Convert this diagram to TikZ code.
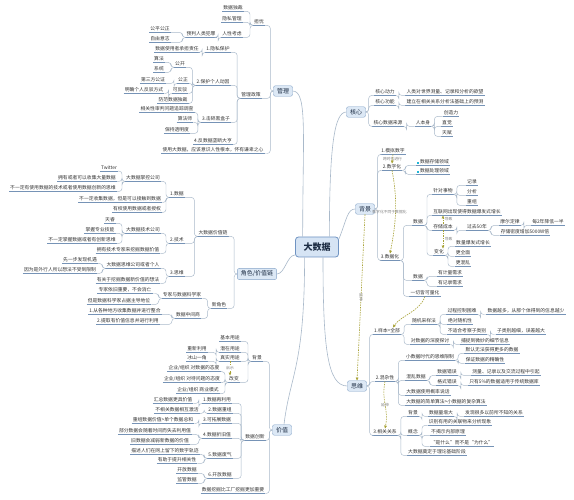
\documentclass[tikz,border=0pt]{standalone}
\usepackage{fontspec}
\newfontfamily\cjk{Noto Sans CJK SC}
\usepackage{tikz}
\usetikzlibrary{arrows.meta}

\definecolor{uline}{HTML}{7693B6}
\definecolor{linkc}{HTML}{A9B9CA}
\definecolor{boxfill}{HTML}{DCE8F5}
\definecolor{boxline}{HTML}{86A4C8}
\definecolor{hubfill}{HTML}{D6E4F4}
\definecolor{hubline}{HTML}{6F93C2}
\definecolor{relc}{HTML}{A8A235}
\definecolor{bullet}{HTML}{1FB5D8}
\definecolor{txt}{HTML}{333333}
\definecolor{boxtxt}{HTML}{1D2D44}

\begin{document}
\begin{tikzpicture}[x=1pt, y=-1pt,
        leaf/.style={font=\cjk\fontsize{4.8}{5.6}\selectfont, text=txt, inner xsep=1pt, inner ysep=1pt,
            append after command={(\tikzlastnode.south west) edge[draw=uline, line width=0.5pt] (\tikzlastnode.south east)}},
        branch/.style={draw=boxline, fill=boxfill, rounded corners=2pt, font=\cjk\fontsize{6}{7}\selectfont, text=boxtxt, inner xsep=3.5pt, inner ysep=2.5pt},
        hub/.style={draw=hubline, fill=hubfill, rounded corners=3pt, line width=0.8pt, font=\cjk\bfseries\fontsize{9}{10}\selectfont, text=boxtxt, minimum width=43pt, minimum height=20pt},
        link/.style={draw=linkc, line width=0.45pt, rounded corners=3pt},
        trunk/.style={draw=linkc, line width=0.6pt},
        rel/.style={draw=relc, dash pattern=on 1.5pt off 1pt, line width=0.6pt, -{Triangle[length=3pt,width=2.6pt]}},
        rellab/.style={font=\cjk\fontsize{3.8}{4.4}\selectfont, text=gray, inner sep=0.5pt}
        ]
        \path[use as bounding box, fill=white] (0,0) rectangle (574,500);

        \node[hub] (dsj) at (317,247) {大数据};

        % 管理
        \node[branch] (gl) at (283,91) {管理};
        \node[leaf] (dy) at (259,22) {担忧};
        \node[leaf] (sjdc) at (233,8) {数据独裁};
        \node[leaf] (ysgl) at (232,19) {隐私管理};
        \node[leaf] (rxkl) at (232,34) {人性考虑};
        \node[leaf] (ypfz) at (201,34) {预判人类犯罪};
        \node[leaf] (gpgz) at (160,29) {公平公正};
        \node[leaf] (zyyz) at (160,39) {自由意志};
        \node[leaf] (glzc) at (251,95) {管理政策};
        \node[leaf] (yshb) at (218,49) {1.隐私保护};
        \node[leaf] (cdzr) at (177,49) {数据使用者承担责任};
        \node[leaf] (bhdy) at (213,82) {2.保护个人动因};
        \node[leaf] (gk) at (180,64) {公开};
        \node[leaf] (sf) at (159,59) {算法};
        \node[leaf] (xt) at (159,69) {系统};
        \node[leaf] (gz) at (183,80) {公正};
        \node[leaf] (dsf) at (153,80) {第三方公证};
        \node[leaf] (kfb) at (180,90) {可反驳};
        \node[leaf] (mqfb) at (144,90) {明确个人反驳方式};
        \node[leaf] (ffdc) at (173,100) {防范数据独裁};
        \node[leaf] (jshh) at (216,119) {3.击碎黑盒子};
        \node[leaf] (xgsp) at (167,109) {相关性审判问题追踪调查};
        \node[leaf] (sfs) at (185,119) {算法师};
        \node[leaf] (bctm) at (177,130) {保持透明度};
        \node[leaf] (fld) at (213,141) {4.反数据垄断大亨};
        \node[leaf] (qbzx) at (213,150) {使用大数据，应该意识人性根本，怀有谦卑之心};

        % 核心
        \node[branch] (hx) at (356,112) {核心};
        \node[leaf] (hxdl) at (385,92) {核心动力};
        \node[leaf] (hxyw) at (445,92) {人类对世界测量、记录和分析的欲望};
        \node[leaf] (hxgn) at (385,102) {核心功能};
        \node[leaf] (hxyc) at (445,102) {建立在相关关系分析法基础上的预测};
        \node[leaf] (hxly) at (388,123) {核心数据来源};
        \node[leaf] (rbs) at (423,123) {人本身};
        \node[leaf] (czl) at (451,113) {创造力};
        \node[leaf] (zj) at (447,123) {直觉};
        \node[leaf] (tf) at (447,133) {天赋};

        % 背景
        \node[branch] (bj) at (365,209) {背景};
        \node[leaf] (mnsz) at (393,151) {1.模拟数字};
        \node[leaf] (szh) at (392,167) {2.数字化};
        \node[leaf] (ccly) at (433,162) {\textcolor{bullet}{\rule{2pt}{2pt}}\,数据存储领域};
        \node[leaf] (clly) at (433,171) {\textcolor{bullet}{\rule{2pt}{2pt}}\,数据处理领域};
        \node[leaf] (sjh) at (390,257) {3.数据化};
        \node[leaf] (sjl) at (418,222) {数据};
        \node[leaf] (zdsw) at (443,191) {针对事物};
        \node[leaf] (jl) at (472,182) {记录};
        \node[leaf] (fx) at (472,192) {分析};
        \node[leaf] (cz) at (472,202) {重组};
        \node[leaf] (hlw) at (467,212) {互联网出现使得数据爆发式增长};
        \node[leaf] (cccb) at (443,227) {存储成本};
        \node[leaf] (gq) at (477,227) {过去50年};
        \node[leaf] (mefl) at (510,222) {摩尔定律};
        \node[leaf] (mlyb) at (548,222) {每2年降低一半};
        \node[leaf] (ccmd) at (525,232) {存储密度增加5000W倍};
        \node[leaf] (bh) at (439,252) {变化};
        \node[leaf] (slbf) at (473,243) {数量爆发式增长};
        \node[leaf] (gqm) at (463,253) {更全面};
        \node[leaf] (ghl) at (463,263) {更混乱};
        \node[leaf] (sjm) at (418,277) {数据};
        \node[leaf] (jlxq) at (450,273) {有计量需求};
        \node[leaf] (jlxr) at (450,283) {有记录需求};
        \node[leaf] (yqlh) at (425,293) {一切皆可量化};

        % 思维
        \node[branch] (sw) at (357,386) {思维};
        \node[leaf] (ybqb) at (387,331) {1.样本=全部};
        \node[leaf] (sjcy) at (424,321) {随机采样法};
        \node[leaf] (gckz) at (462,311) {过程控制困难};
        \node[leaf] (xxys) at (526,311) {数据越多，从那个体得到的信息越少};
        \node[leaf] (jdsj) at (460,321) {绝对随机性};
        \node[leaf] (bshz) at (467,331) {不适合考察子类别};
        \node[leaf] (wcyd) at (521,331) {子类别越细，误差越大};
        \node[leaf] (sdtt) at (430,341) {对数据的深度探讨};
        \node[leaf] (bzwm) at (485,341) {捕捉到微妙的细节信息};
        \node[leaf] (hzx) at (385,378) {2.混杂性};
        \node[leaf] (xsjx) at (430,357) {小数据时代的思维限制};
        \node[leaf] (mrwf) at (492,350) {默认无法获得更多的数据};
        \node[leaf] (bzjq) at (485,360) {保证数据的精确性};
        \node[leaf] (hlsj) at (416,377) {混乱数据};
        \node[leaf] (sjcw) at (447,372) {数据错误};
        \node[leaf] (clyq) at (506,372) {测量、记录以及交流过程中引起};
        \node[leaf] (gscw) at (447,382) {格式错误};
        \node[leaf] (zywu) at (504,382) {只有5\%的数据适用于传统数据库};
        \node[leaf] (glsh) at (428,392) {大数据使用概率说话};
        \node[leaf] (jdsf) at (446,402) {大数据的简单算法>小数据的复杂算法};
        \node[leaf] (xggx) at (385,432) {3.相关关系};
        \node[leaf] (bjq) at (413,413) {背景};
        \node[leaf] (sjzd) at (441,413) {数据量增大};
        \node[leaf] (fxgx) at (494,413) {发现很多以前所不知的关系};
        \node[leaf] (gn) at (413,432) {概念};
        \node[leaf] (sbgl) at (460,422) {识别有用的关联物来分析现象};
        \node[leaf] (bjsy) at (448,432) {不揭示内部原理};
        \node[leaf] (sssm) at (462,443) {“是什么”而不是“为什么”};
        \node[leaf] (ddjc) at (437,452) {大数据奠定于理论基础阶段};

        % 角色/价值链
        \node[branch] (js) at (257,274) {角色/价值链};
        \node[leaf] (jzl) at (213,233) {大数据价值链};
        \node[leaf] (sjd) at (177,194) {1.数据};
        \node[leaf] (zkgs) at (143,178) {大数据掌控公司};
        \node[leaf] (tw) at (109,168) {Twitter};
        \node[leaf] (yysj) at (87,178) {拥有或者可以收集大量数据};
        \node[leaf] (bydj) at (63,188) {不一定有使用数据的技术或者使用数据创新的思维};
        \node[leaf] (bysj) at (120,199) {不一定收集数据，但是可以接触到数据};
        \node[leaf] (yqsy) at (137,209) {有权使用数据或者授权};
        \node[leaf] (jsd) at (177,240) {2.技术};
        \node[leaf] (jsgs) at (143,230) {大数据技术公司};
        \node[leaf] (tr) at (110,220) {天睿};
        \node[leaf] (zwzy) at (100,230) {掌握专业技能};
        \node[leaf] (bywj) at (82,240) {不一定掌握数据或者有创新思维};
        \node[leaf] (yyzj) at (128,250) {拥有技术专家来挖掘数据价值};
        \node[leaf] (swd) at (177,273) {3.思维};
        \node[leaf] (swgs) at (133,265) {大数据思维公司或者个人};
        \node[leaf] (xyb) at (80,260) {先一步发现机遇};
        \node[leaf] (wxr) at (60,270) {因为是外行人所以想法不受到限制};
        \node[leaf] (wjxz) at (128,280) {有关于挖掘数据新价值的想法};
        \node[leaf] (xjs) at (219,305) {新角色};
        \node[leaf] (zjkx) at (182,295) {专家与数据科学家};
        \node[leaf] (zjzy) at (125,290) {专家依旧重要，不会消亡};
        \node[leaf] (kxzd) at (119,301) {但是数据科学家占据主导地位};
        \node[leaf] (zjs) at (188,315) {数据中间商};
        \node[leaf] (sjzh) at (125,311) {1.从各种地方收集数据并进行整合};
        \node[leaf] (tqjz) at (128,321) {2.提取有价值信息并进行利用};

        % 价值
        \node[branch] (jz) at (282,430) {价值};
        \node[leaf] (bjj) at (257,358) {背景};
        \node[leaf] (jbyt) at (230,338) {基本用途};
        \node[leaf] (qzyt) at (230,349) {潜在用途};
        \node[leaf] (cxly) at (197,349) {重新利用};
        \node[leaf] (zsyt) at (230,358) {真实用途};
        \node[leaf] (bsyj) at (197,358) {冰山一角};
        \node[leaf] (gb) at (234,379) {改变};
        \node[leaf] (tdsj) at (194,368) {企业/组织 对数据的态度};
        \node[leaf] (tdwt) at (192,379) {企业/组织 对待问题的态度};
        \node[leaf] (syms) at (198,390) {企业/组织 商业模式};
        \node[leaf] (sjcx) at (255,437) {数据创新};
        \node[leaf] (zly) at (217,400) {1.数据再利用};
        \node[leaf] (hzsj) at (173,400) {汇总数据更具价值};
        \node[leaf] (sjcz) at (220,410) {2.数据重组};
        \node[leaf] (bxg) at (177,410) {不相关数据相互激活};
        \node[leaf] (kzsj) at (217,420) {3.可拓展数据};
        \node[leaf] (czjz) at (163,420) {重组数据价值>单个数据总和};
        \node[leaf] (zjz) at (217,435) {4.数据折旧值};
        \node[leaf] (bfsj) at (155,431) {部分数据会随着时间而失去利用值};
        \node[leaf] (jsjz) at (160,441) {旧数据会减弱新数据的价值};
        \node[leaf] (sjfq) at (220,455) {5.数据废气};
        \node[leaf] (msgj) at (165,451) {描述人们在网上留下的数字轨迹};
        \node[leaf] (tsxg) at (177,460) {有助于提升相关性};
        \node[leaf] (kfsj) at (220,475) {6.开放数据};
        \node[leaf] (kfsd) at (187,470) {开放数据};
        \node[leaf] (jgsj) at (187,480) {监管数据};
        \node[leaf] (wjzy) at (233,490) {数据挖掘比工厂挖掘更加重要};

        % trunk lines from the hub
        \draw[trunk] (dsj.144) .. controls +(0,-100) and +(15,0) .. (gl.east);
        \draw[trunk] (dsj.40) .. controls +(0,-90) and +(-12,0) .. (hx.west);
        \draw[trunk] (dsj.20) .. controls +(8,-20) and +(-8,0) .. (bj.west);
        \draw[trunk] (dsj.200) .. controls +(-8,0) and +(8,0) .. (js.east);
        \draw[trunk] (dsj.-60) .. controls +(0,90) and +(-20,0) .. (sw.west);
        \draw[trunk] (dsj.-140) .. controls +(0,110) and +(6,-50) .. (jz.70);

        % branch boxes to their topics
        \foreach \p/\cs in {gl/{dy,glzc,qbzx}, js/{jzl,xjs}, jz/{bjj,sjcx,wjzy}}
            \foreach \c in \cs \draw[link] (\p.west) -- ++(-3,0) |- (\c.south east);
        \foreach \p/\cs in {hx/{hxdl,hxgn,hxly}, bj/{mnsz,szh,sjh}, sw/{ybqb,hzx,xggx}}
            \foreach \c in \cs \draw[link] (\p.east) -- ++(3,0) |- (\c.south west);

        % left side topics
        \foreach \p/\cs in {dy/{sjdc,ysgl,rxkl}, rxkl/{ypfz}, ypfz/{gpgz,zyyz},
                glzc/{yshb,bhdy,jshh,fld}, yshb/{cdzr}, bhdy/{gk,gz,kfb,ffdc},
                gk/{sf,xt}, gz/{dsf}, kfb/{mqfb}, jshh/{xgsp,sfs,bctm},
                jzl/{sjd,jsd,swd}, sjd/{zkgs,bysj,yqsy}, zkgs/{tw,yysj,bydj},
                jsd/{jsgs,yyzj}, jsgs/{tr,zwzy,bywj}, swd/{swgs,wjxz}, swgs/{xyb,wxr},
                xjs/{zjkx,zjs}, zjkx/{zjzy,kxzd}, zjs/{sjzh,tqjz},
                bjj/{jbyt,qzyt,zsyt,gb}, qzyt/{cxly}, zsyt/{bsyj}, gb/{tdsj,tdwt,syms},
                sjcx/{zly,sjcz,kzsj,zjz,sjfq,kfsj}, zly/{hzsj}, sjcz/{bxg}, kzsj/{czjz},
                zjz/{bfsj,jsjz}, sjfq/{msgj,tsxg}, kfsj/{kfsd,jgsj}}
            \foreach \c in \cs \draw[link] (\p.south west) -- ++(-3,0) |- (\c.south east);

        % right side topics
        \foreach \p/\cs in {hxdl/{hxyw}, hxgn/{hxyc}, hxly/{rbs}, rbs/{czl,zj,tf},
                szh/{ccly,clly}, sjh/{sjl,sjm,yqlh}, sjl/{zdsw,hlw,cccb,bh},
                zdsw/{jl,fx,cz}, cccb/{gq}, gq/{mefl,ccmd}, mefl/{mlyb},
                bh/{slbf,gqm,ghl}, sjm/{jlxq,jlxr},
                ybqb/{sjcy,sdtt}, sjcy/{gckz,jdsj,bshz}, gckz/{xxys}, bshz/{wcyd}, sdtt/{bzwm},
                hzx/{xsjx,hlsj,glsh,jdsf}, xsjx/{mrwf,bzjq}, hlsj/{sjcw,gscw},
                sjcw/{clyq}, gscw/{zywu},
                xggx/{bjq,gn,ddjc}, bjq/{sjzd}, sjzd/{fxgx}, gn/{sbgl,bjsy,sssm}}
            \foreach \c in \cs \draw[link] (\p.south east) -- ++(3,0) |- (\c.south west);

        % relations
        \draw[rel] (mnsz.south) -- (szh.north) node[rellab, midway] {跨时代进行};
        \draw[rel] (szh.south) .. controls +(6,30) and +(6,-30) .. (sjh.north)
            node[rellab, midway, xshift=-6pt] {数字化不同于数据化};
        \draw[rel] (cccb.north) -- (cccb.north |- hlw.south) node[rellab, midway, right=1pt] {导致};
        \draw[rel] (cccb.south) -- (cccb.south |- bh.north) node[rellab, midway, right=1pt] {导致};
        \draw[rel] (yqlh.south) .. controls +(-5,15) and +(8,-12) .. (ybqb.30);
        \draw[rel] (bj.south) .. controls +(-3,60) and +(3,-60) .. (sw.north)
            node[rellab, midway, rotate=-90] {延伸};
        \draw[rel] (hzx.south) .. controls +(-4,20) and +(4,-20) .. (xggx.north)
            node[rellab, midway] {延伸};
        \draw[rel] (zsyt.south) -- (zsyt.south |- gb.north) node[rellab, midway, fill=white] {启示};
    \end{tikzpicture}
\end{document}
